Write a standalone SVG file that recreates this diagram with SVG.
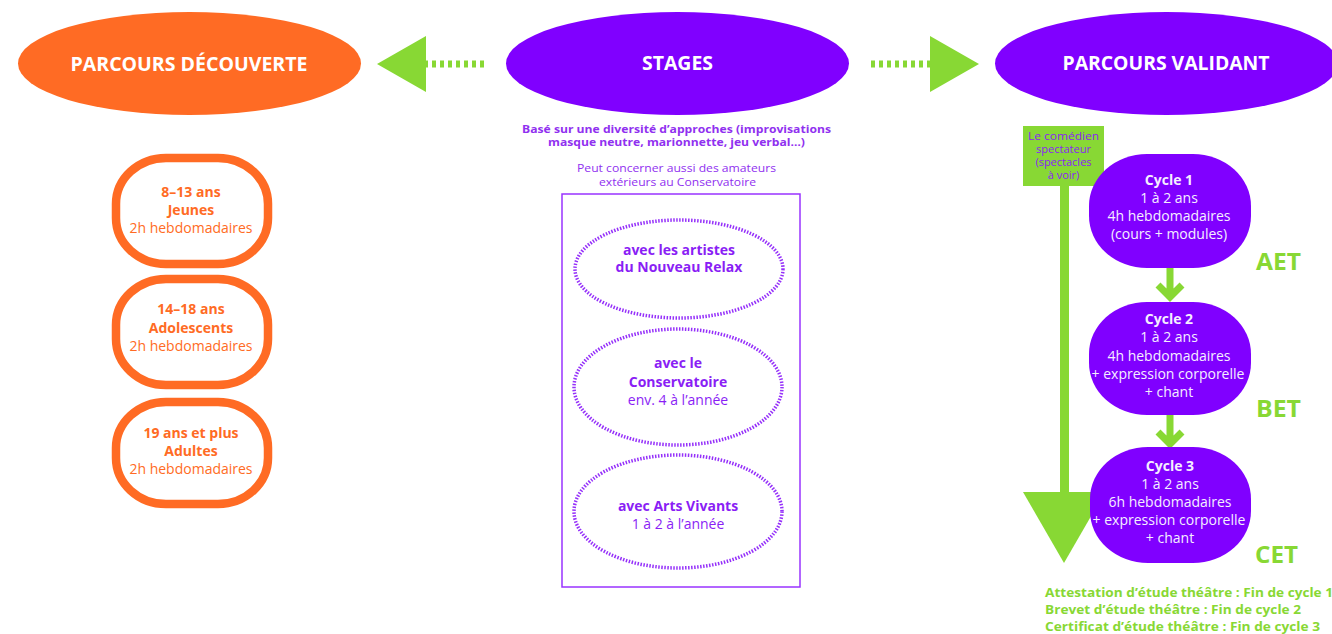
<svg xmlns="http://www.w3.org/2000/svg" width="1332" height="634" viewBox="0 0 1332 634">
<defs>
<style>
text{font-family:"Open Sans","Noto Sans","Liberation Sans",sans-serif;text-anchor:middle}
.title{font-size:20px;font-weight:700;fill:#ffffff}
.org{fill:#FF6B24}
.orgbox{fill:#ffffff;stroke:#FF6B24;stroke-width:8.5}
.otb{font-size:14px;font-weight:700;fill:#FF6B24}
.ot{font-size:14px;fill:#FF6B24}
.pur{fill:#8000FF}
.ptb{font-size:14px;font-weight:700;fill:#8A1EF5}
.pt{font-size:14px;fill:#8A1EF5}
.dotell{fill:none;stroke:#9530FA;stroke-width:3.5;stroke-dasharray:1.5 1.5}
.ctb{font-size:14px;font-weight:700;fill:#F5EEFF}
.ct{font-size:14px;fill:#F5EEFF}
.grn{fill:#88D834}
.dots{fill:none;stroke:#88D834;stroke-width:7;stroke-dasharray:4 4}
.gl{fill:none;stroke:#88D834;stroke-width:8}
.big{font-size:24px;font-weight:700;fill:#88D834;text-anchor:start}
.bot{font-size:13px;font-weight:700;fill:#88D834;text-anchor:start}
.note{font-size:11px;fill:#9030F0}
.noteb{font-size:11px;font-weight:700;fill:#9030F0}
.gt{font-size:11px;fill:#8A1EF5}
</style>
</defs>
<rect width="1332" height="634" fill="#ffffff"/>

<g id="connectors">
  <line class="dots" x1="484" y1="64" x2="426" y2="64"/>
  <polygon class="grn" points="426,36 426,92 377,64"/>
  <line class="dots" x1="871" y1="64" x2="930" y2="64"/>
  <polygon class="grn" points="930,36 930,92 979,64"/>
  <line class="gl" x1="1064.5" y1="186" x2="1064.5" y2="494" style="stroke-width:9"/>
  <polygon class="grn" points="1023,492 1105,492 1064,563"/>
  <path class="gl" d="M1170,268 V296 M1158,285 L1170,297 L1182,285" style="stroke-width:7"/>
  <path class="gl" d="M1170,415 V443 M1158,432 L1170,444 L1182,432" style="stroke-width:7"/>
</g>

<g id="parcours-decouverte">
  <ellipse class="org" cx="189.5" cy="63.5" rx="171.5" ry="51.5"/>
  <text class="title" x="189" y="71" textLength="237" lengthAdjust="spacingAndGlyphs">PARCOURS DÉCOUVERTE</text>
</g>

<g id="stages">
  <ellipse class="pur" cx="677.5" cy="63.5" rx="171.5" ry="51.5"/>
  <text class="title" x="677.5" y="70" textLength="71" lengthAdjust="spacingAndGlyphs">STAGES</text>
</g>

<g id="parcours-validant">
  <ellipse class="pur" cx="1166.5" cy="63.5" rx="171.5" ry="51.5"/>
  <text class="title" x="1166" y="70" textLength="207" lengthAdjust="spacingAndGlyphs">PARCOURS VALIDANT</text>
</g>

<g id="stages-notes">
  <text class="noteb" x="676.5" y="133" textLength="309" lengthAdjust="spacingAndGlyphs">Basé sur une diversité d’approches (improvisations</text>
  <text class="noteb" x="676.5" y="146" textLength="257" lengthAdjust="spacingAndGlyphs">masque neutre, marionnette, jeu verbal…)</text>
  <text class="note" x="676.5" y="172" textLength="199" lengthAdjust="spacingAndGlyphs">Peut concerner aussi des amateurs</text>
  <text class="note" x="677.5" y="186" textLength="157" lengthAdjust="spacingAndGlyphs">extérieurs au Conservatoire</text>
</g>

<g id="stages-box">
  <rect x="562" y="194" width="238" height="393" fill="none" stroke="#9933FF" stroke-width="1.5"/>
</g>

<g id="stage-nouveau-relax">
  <ellipse class="dotell" cx="679" cy="269" rx="104" ry="49"/>
  <text class="ptb" x="679" y="255">avec les artistes</text>
  <text class="ptb" x="679" y="272">du Nouveau Relax</text>
</g>

<g id="stage-conservatoire">
  <ellipse class="dotell" cx="678" cy="387" rx="104" ry="58"/>
  <text class="ptb" x="678" y="368">avec le</text>
  <text class="ptb" x="678" y="387">Conservatoire</text>
  <text class="pt" x="678" y="405">env. 4 à l’année</text>
</g>

<g id="stage-arts-vivants">
  <ellipse class="dotell" cx="678" cy="511.5" rx="104" ry="56.5"/>
  <text class="ptb" x="678" y="511">avec Arts Vivants</text>
  <text class="pt" x="678" y="529">1 à 2 à l’année</text>
</g>

<g id="jeunes">
  <rect class="orgbox" x="116" y="158" width="152" height="106" rx="50" ry="46"/>
  <text class="otb" x="191" y="197">8–13 ans</text>
  <text class="otb" x="191" y="215">Jeunes</text>
  <text class="ot" x="191" y="233">2h hebdomadaires</text>
</g>

<g id="adolescents">
  <rect class="orgbox" x="116" y="279" width="152" height="106" rx="50" ry="46"/>
  <text class="otb" x="191" y="314">14–18 ans</text>
  <text class="otb" x="191" y="333">Adolescents</text>
  <text class="ot" x="191" y="351">2h hebdomadaires</text>
</g>

<g id="adultes">
  <rect class="orgbox" x="116" y="402" width="152" height="102" rx="50" ry="46"/>
  <text class="otb" x="191" y="438">19 ans et plus</text>
  <text class="otb" x="191" y="456">Adultes</text>
  <text class="ot" x="191" y="474">2h hebdomadaires</text>
</g>

<g id="comedien-spectateur">
  <rect class="grn" x="1023" y="126" width="81" height="60"/>
  <text class="gt" x="1063.5" y="140" textLength="71" lengthAdjust="spacingAndGlyphs">Le comédien</text>
  <text class="gt" x="1063.5" y="153">spectateur</text>
  <text class="gt" x="1063.5" y="166">(spectacles</text>
  <text class="gt" x="1063.5" y="179">à voir)</text>
</g>

<g id="cycle1">
  <rect class="pur" x="1089" y="154" width="162" height="114" rx="58" ry="52"/>
  <text class="ctb" x="1169" y="185">Cycle 1</text>
  <text class="ct" x="1169" y="203">1 à 2 ans</text>
  <text class="ct" x="1169" y="221">4h hebdomadaires</text>
  <text class="ct" x="1169" y="239">(cours + modules)</text>
</g>

<g id="cycle2">
  <rect class="pur" x="1089" y="302" width="162" height="113" rx="58" ry="52"/>
  <text class="ctb" x="1169" y="324">Cycle 2</text>
  <text class="ct" x="1169" y="342">1 à 2 ans</text>
  <text class="ct" x="1169" y="361">4h hebdomadaires</text>
  <text class="ct" x="1168" y="379">+ expression corporelle</text>
  <text class="ct" x="1169" y="397">+ chant</text>
</g>

<g id="cycle3">
  <rect class="pur" x="1090" y="447" width="161" height="116" rx="58" ry="52"/>
  <text class="ctb" x="1170" y="471">Cycle 3</text>
  <text class="ct" x="1170" y="489">1 à 2 ans</text>
  <text class="ct" x="1170" y="507">6h hebdomadaires</text>
  <text class="ct" x="1169" y="525">+ expression corporelle</text>
  <text class="ct" x="1170" y="543">+ chant</text>
</g>

<g id="diplomes">
  <text class="big" x="1256" y="270" textLength="45" lengthAdjust="spacingAndGlyphs">AET</text>
  <text class="big" x="1256" y="417" textLength="45" lengthAdjust="spacingAndGlyphs">BET</text>
  <text class="big" x="1255" y="563" textLength="43" lengthAdjust="spacingAndGlyphs">CET</text>
</g>

<g id="legend">
  <text class="bot" x="1045" y="597" textLength="288" lengthAdjust="spacingAndGlyphs">Attestation d’étude théâtre : Fin de cycle 1</text>
  <text class="bot" x="1045" y="614" textLength="256" lengthAdjust="spacingAndGlyphs">Brevet d’étude théâtre : Fin de cycle 2</text>
  <text class="bot" x="1045" y="631" textLength="275" lengthAdjust="spacingAndGlyphs">Certificat d’étude théâtre : Fin de cycle 3</text>
</g>
</svg>
